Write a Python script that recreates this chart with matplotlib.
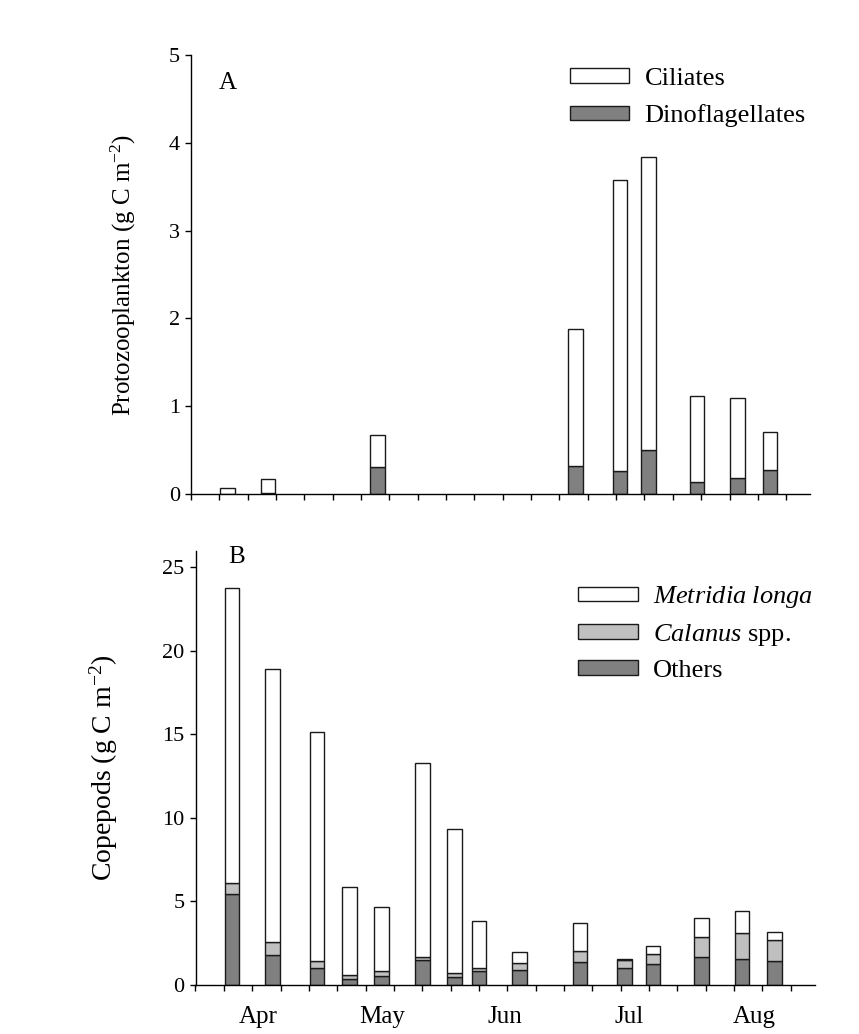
import matplotlib
matplotlib.use("Agg")
import matplotlib.pyplot as plt
import numpy as np

plt.rcParams['font.family'] = ['Liberation Serif', 'DejaVu Serif']
plt.rcParams['mathtext.fontset'] = 'custom'
plt.rcParams['mathtext.rm'] = 'Liberation Serif'
plt.rcParams['mathtext.it'] = 'Liberation Serif:italic'

# sampling days (day of year)
days = [99, 109, 120, 128, 136, 146, 154, 160, 170, 185, 196, 203, 215, 225, 233]

# panel A: protozooplankton (g C m-2), nan = no sample
dino = [0.0, 0.01, np.nan, np.nan, 0.31, np.nan, np.nan, np.nan, np.nan,
        0.32, 0.27, 0.50, 0.14, 0.18, 0.28]
ciliates = [0.07, 0.16, np.nan, np.nan, 0.37, np.nan, np.nan, np.nan, np.nan,
            1.56, 3.30, 3.34, 0.98, 0.91, 0.43]

# panel B: copepods (g C m-2)
others = [5.43, 1.78, 1.04, 0.37, 0.54, 1.50, 0.50, 0.84, 0.90, 1.40, 1.04, 1.24, 1.66, 1.58, 1.44]
calanus = [0.65, 0.79, 0.41, 0.22, 0.28, 0.19, 0.22, 0.16, 0.41, 0.65, 0.46, 0.64, 1.19, 1.53, 1.23]
metridia = [17.68, 16.36, 13.71, 5.29, 3.83, 11.62, 8.64, 2.81, 0.65, 1.64, 0.06, 0.47, 1.14, 1.30, 0.52]

months = ['Apr', 'May', 'Jun', 'Jul', 'Aug']
month_mid = [105.5, 136, 166.5, 197, 228]
week_ticks = np.arange(90, 240, 7)

dark = '#808080'
light = '#c0c0c0'
edge = '#1a1a1a'
bw = 3.6
lw = 1.0

fig = plt.figure(figsize=(8.59, 10.34), dpi=100)
axA = fig.add_axes([191/859, 539.7/1034, 619.5/859, 439.6/1034])
axB = fig.add_axes([195.5/859, 49/1034, 619.5/859, 434.5/1034])

x = np.array(days, dtype=float)

# ---- A
d = np.array(dino); c = np.array(ciliates)
m = ~np.isnan(d)
axA.bar(x[m], d[m], width=bw, color=dark, edgecolor=edge, linewidth=lw, label='Dinoflagellates')
axA.bar(x[m], c[m], bottom=d[m], width=bw, color='white', edgecolor=edge, linewidth=lw, label='Ciliates')
axA.set_ylim(0, 5)
axA.set_yticks([0, 1, 2, 3, 4, 5])
axA.set_ylabel('Protozooplankton (g C m$^{-2}$)', fontsize=18, labelpad=22)
axA.text(0.06, 0.935, 'A', transform=axA.transAxes, fontsize=18, ha='center', va='center')
h, l = axA.get_legend_handles_labels()
axA.legend(h[::-1], l[::-1], loc='upper left', bbox_to_anchor=(0.611, 0.97), frameon=False,
           fontsize=19, handlelength=2.27, handleheight=0.49, handletextpad=0.57,
           labelspacing=0.55, borderpad=0, borderaxespad=0)

# ---- B
o = np.array(others); ca = np.array(calanus); me = np.array(metridia)
axB.bar(x, o, width=bw, color=dark, edgecolor=edge, linewidth=lw, label='Others')
axB.bar(x, ca, bottom=o, width=bw, color=light, edgecolor=edge, linewidth=lw, label='$\\it{Calanus}$ spp.')
axB.bar(x, me, bottom=o + ca, width=bw, color='white', edgecolor=edge, linewidth=lw, label='$\\it{Metridia\\ longa}$')
axB.set_ylim(0, 26)
axB.set_yticks([0, 5, 10, 15, 20, 25])
axB.set_ylabel('Copepods (g C m$^{-2}$)', fontsize=20, labelpad=30)
axB.text(0.067, 0.985, 'B', transform=axB.transAxes, fontsize=18, ha='center', va='center')
h, l = axB.get_legend_handles_labels()
axB.legend(h[::-1], l[::-1], loc='upper left', bbox_to_anchor=(0.617, 0.922), frameon=False,
           fontsize=19, handlelength=2.27, handleheight=0.49, handletextpad=0.57,
           labelspacing=0.45, borderpad=0, borderaxespad=0)

for ax in (axA, axB):
    ax.set_xlim(90, 243)
    ax.spines['top'].set_visible(False)
    ax.spines['right'].set_visible(False)
    ax.set_xticks(week_ticks)
    ax.set_xticklabels([])
    ax.tick_params(axis='both', which='major', direction='out', length=4, width=1, labelsize=16, pad=4)
    for s in ['left', 'bottom']:
        ax.spines[s].set_linewidth(1)

axB.set_xticks(month_mid, minor=True)
axB.set_xticklabels(months, minor=True, fontsize=18)
axB.tick_params(axis='x', which='minor', length=0, pad=15)

fig.savefig('out.png', dpi=100)
